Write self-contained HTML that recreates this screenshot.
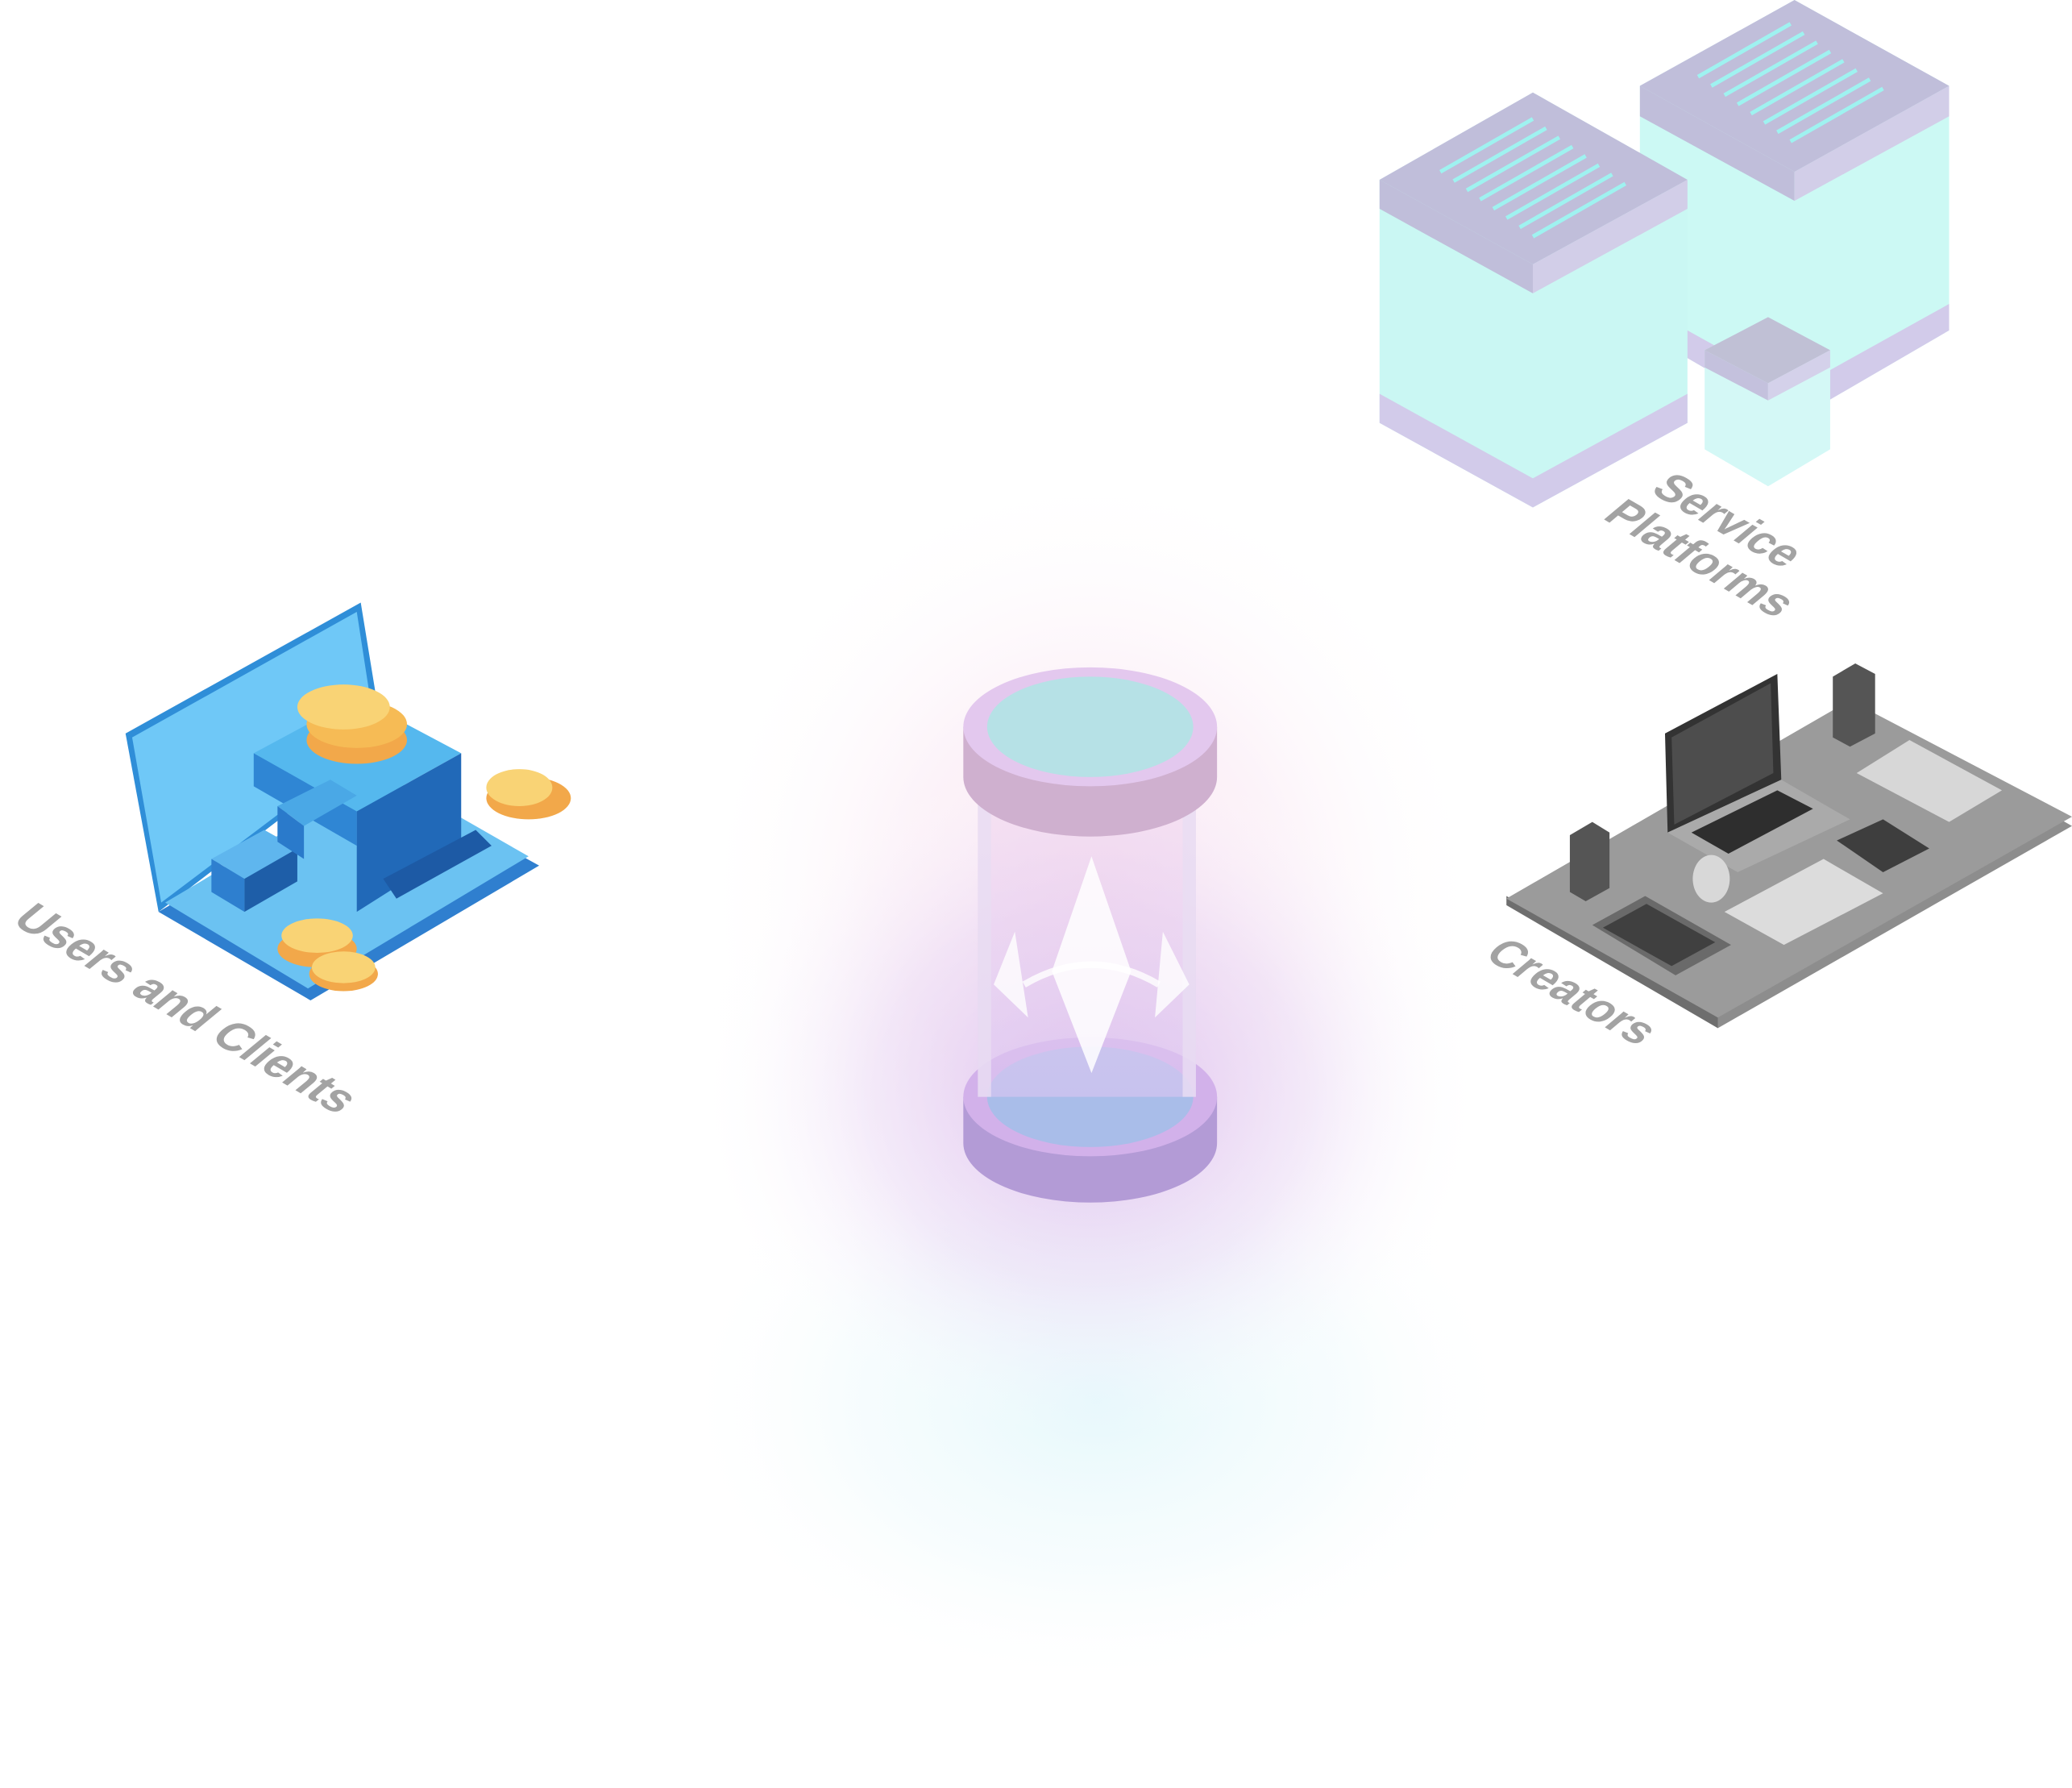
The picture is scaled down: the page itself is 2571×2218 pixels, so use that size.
<!DOCTYPE html>
<html><head><meta charset="utf-8"><style>
html,body{margin:0;padding:0;background:#fff;width:2571px;height:2218px;overflow:hidden}
svg{display:block}
text{font-family:"Liberation Sans",sans-serif;font-weight:bold;fill:#a3a3a3}
</style></head><body>
<svg width="2571" height="2218" viewBox="0 0 1568 1353" preserveAspectRatio="none">
<defs>
<radialGradient id="gTop" cx="0.5" cy="0.5" r="0.5">
<stop offset="0" stop-color="#f3c9e6" stop-opacity="0.9"/>
<stop offset="0.5" stop-color="#f6d9ec" stop-opacity="0.5"/>
<stop offset="1" stop-color="#fff" stop-opacity="0"/>
</radialGradient>
<radialGradient id="gMid" cx="0.5" cy="0.5" r="0.5">
<stop offset="0" stop-color="#d9b8ec" stop-opacity="0.85"/>
<stop offset="0.55" stop-color="#e6d3f3" stop-opacity="0.45"/>
<stop offset="1" stop-color="#fff" stop-opacity="0"/>
</radialGradient>
<radialGradient id="gBot" cx="0.5" cy="0.5" r="0.5">
<stop offset="0" stop-color="#e0f6fb" stop-opacity="0.8"/>
<stop offset="0.6" stop-color="#eefafc" stop-opacity="0.45"/>
<stop offset="1" stop-color="#fff" stop-opacity="0"/>
</radialGradient>
<linearGradient id="tube" x1="0" x2="0" y1="0" y2="1">
<stop offset="0" stop-color="#f3d8ee" stop-opacity="0.6"/>
<stop offset="1" stop-color="#dcc6f1" stop-opacity="0.6"/>
</linearGradient>
</defs>
<ellipse cx="830" cy="1060" rx="320" ry="220" fill="url(#gBot)"/>
<ellipse cx="825" cy="680" rx="300" ry="330" fill="url(#gTop)" opacity="0.6"/>
<ellipse cx="825" cy="830" rx="300" ry="260" fill="url(#gMid)"/>

<path d="M729,830 L729,865 A96,45 0 0 0 921,865 L921,830 Z" fill="#b39bd6"/>
<ellipse cx="825" cy="830" rx="96" ry="45" fill="#d2b1ea"/>
<ellipse cx="825" cy="830" rx="78" ry="38" fill="#a9bde9"/>
<rect x="740" y="590" width="165" height="240" fill="url(#tube)"/>
<rect x="740" y="590" width="10" height="240" fill="#e8ddf3" opacity="0.8"/>
<rect x="895" y="590" width="10" height="240" fill="#e8ddf3" opacity="0.8"/>
<polygon points="826,648 856,735 826,812 796,735" fill="#fff" opacity="0.85"/>
<polygon points="768,705 778,770 752,745" fill="#fff" opacity="0.8"/>
<polygon points="880,705 900,745 874,770" fill="#fff" opacity="0.8"/>
<path d="M775,745 Q826,715 877,745" fill="none" stroke="#fff" stroke-width="5" opacity="0.8"/>
<path d="M729,550 L729,588 A96,45 0 0 0 921,588 L921,550 Z" fill="#cfb0cf"/>
<ellipse cx="825" cy="550" rx="96" ry="45" fill="#e3c8ee"/>
<ellipse cx="825" cy="550" rx="78" ry="38" fill="#b6e1e6"/>

<g>
<polygon points="95,555 273,456 290,560 120,690" fill="#2f8ed8"/>
<polygon points="100,558 270,463 285,560 122,683" fill="#6fc8f7"/>
<polygon points="120,690 290,590 408,655 235,757" fill="#2f7fcf"/>
<polygon points="125,683 290,585 400,648 233,748" fill="#6bc2f2"/>
<polygon points="192,570 270,528 349,570 270,614" fill="#55b8ee"/>
<polygon points="192,570 270,614 270,640 192,595" fill="#2f86d4"/>
<polygon points="270,614 349,570 349,640 270,690" fill="#2169b8"/>
<polygon points="160,650 200,628 225,642 185,665" fill="#5fb6ee"/>
<polygon points="160,650 185,665 185,690 160,675" fill="#2e7fcf"/>
<polygon points="185,665 225,642 225,667 185,690" fill="#1e5ea8"/>
<polygon points="290,665 360,628 372,640 300,680" fill="#1d5aa5"/>
<polygon points="210,610 250,590 270,602 230,625" fill="#4aa8e6"/>
<polygon points="210,610 230,625 230,650 210,637" fill="#2a7acb"/>
<ellipse cx="400" cy="604" rx="32" ry="16" fill="#f2a84a"/>
<ellipse cx="393" cy="596" rx="25" ry="14" fill="#f9d375"/>
<ellipse cx="270" cy="560" rx="38" ry="18" fill="#f2a84a"/>
<ellipse cx="270" cy="548" rx="38" ry="18" fill="#f6bb55"/>
<ellipse cx="260" cy="535" rx="35" ry="17" fill="#f9d375"/>
<ellipse cx="240" cy="718" rx="30" ry="14" fill="#f2a84a"/>
<ellipse cx="240" cy="708" rx="27" ry="13" fill="#f9d375"/>
<ellipse cx="260" cy="737" rx="26" ry="13" fill="#f2a84a"/>
<ellipse cx="260" cy="732" rx="24" ry="12" fill="#f9d375"/>
</g>
<text transform="translate(8,698) rotate(30.5) skewX(-20)" font-size="34">Users and Clients</text>

<g opacity="0.72">
<polygon points="1241,65 1358,0 1475,65 1475,250 1358,318 1241,250" fill="#b9f7f1"/>
<polygon points="1241,65 1358,0 1475,65 1358,130" fill="#a9a6cd"/>
<polygon points="1241,65 1358,130 1358,152 1241,88" fill="#a8a6cd"/>
<polygon points="1358,130 1475,65 1475,88 1358,152" fill="#c1bce0"/>
<polygon points="1241,230 1358,295 1475,230 1475,250 1358,318 1241,250" fill="#c1b8e2"/>
<polygon points="1044,136 1160,70 1277,136 1277,320 1160,384 1044,320" fill="#b6f5ef"/>
<polygon points="1044,136 1160,70 1277,136 1160,200" fill="#a9a6cd"/>
<polygon points="1044,136 1160,200 1160,222 1044,158" fill="#a8a6cd"/>
<polygon points="1160,200 1277,136 1277,158 1160,222" fill="#c1bce0"/>
<polygon points="1044,298 1160,362 1277,298 1277,320 1160,384 1044,320" fill="#c1b8e2"/>
<polygon points="1290,265 1338,240 1385,265 1385,340 1338,368 1290,340" fill="#c4f6f3"/>
<polygon points="1290,265 1338,240 1385,265 1338,290" fill="#a9a8c6"/>
<polygon points="1290,265 1338,290 1338,303 1290,278" fill="#aeaad0"/>
<polygon points="1338,290 1385,265 1385,278 1338,303" fill="#c4c0e2"/>
</g>
<g stroke="#9ff2f0" stroke-width="3">
<line x1="1090" y1="130" x2="1160" y2="90"/><line x1="1100" y1="137" x2="1170" y2="97"/>
<line x1="1110" y1="144" x2="1180" y2="104"/><line x1="1120" y1="151" x2="1190" y2="111"/>
<line x1="1130" y1="158" x2="1200" y2="118"/><line x1="1140" y1="165" x2="1210" y2="125"/>
<line x1="1150" y1="172" x2="1220" y2="132"/><line x1="1160" y1="179" x2="1230" y2="139"/>
<line x1="1285" y1="58" x2="1355" y2="18"/><line x1="1295" y1="65" x2="1365" y2="25"/>
<line x1="1305" y1="72" x2="1375" y2="32"/><line x1="1315" y1="79" x2="1385" y2="39"/>
<line x1="1325" y1="86" x2="1395" y2="46"/><line x1="1335" y1="93" x2="1405" y2="53"/>
<line x1="1345" y1="100" x2="1415" y2="60"/><line x1="1355" y1="107" x2="1425" y2="67"/>
</g>
<text transform="translate(1248,372) rotate(30) skewX(-20)" font-size="33">Service</text>
<text transform="translate(1212,392) rotate(30) skewX(-20)" font-size="33">Platforms</text>

<polygon points="1140,680 1400,530 1568,625 1300,778" fill="#8d8d8d"/>
<polygon points="1140,685 1300,778 1300,770 1140,678" fill="#6e6e6e"/>
<polygon points="1140,680 1400,530 1568,618 1300,770" fill="#9b9b9b"/>
<polygon points="1260,555 1345,510 1348,590 1262,630" fill="#333"/>
<polygon points="1265,558 1340,517 1342,585 1267,624" fill="#4d4d4d"/>
<polygon points="1262,630 1348,590 1400,620 1315,660" fill="#aaa"/>
<polygon points="1280,630 1345,598 1372,612 1308,646" fill="#2e2e2e"/>
<polygon points="1405,585 1445,560 1515,598 1475,622" fill="#d7d7d7"/>
<polygon points="1390,636 1425,620 1460,642 1425,660" fill="#3e3e3e"/>
<polygon points="1305,690 1380,650 1425,676 1350,715" fill="#dcdcdc"/>
<polygon points="1205,700 1245,678 1310,715 1268,738" fill="#6a6a6a"/>
<polygon points="1213,702 1246,684 1298,713 1265,731" fill="#404040"/>
<ellipse cx="1295" cy="665" rx="14" ry="18" fill="#d8d8d8"/>
<polygon points="1188,632 1205,622 1218,630 1218,672 1200,682 1188,675" fill="#555"/>
<polygon points="1387,512 1404,502 1419,510 1419,555 1400,565 1387,558" fill="#555"/>
<text transform="translate(1122,724) rotate(30) skewX(-20)" font-size="33">Creators</text>
</svg>
</body></html>
